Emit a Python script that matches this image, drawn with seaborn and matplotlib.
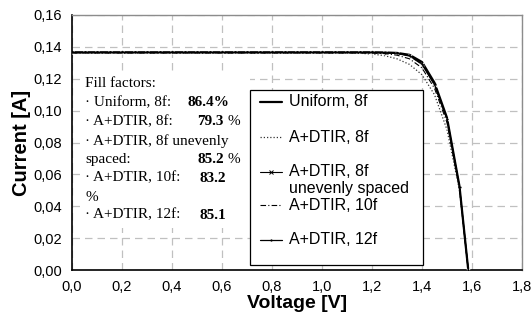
import matplotlib
matplotlib.use("Agg")
import matplotlib.pyplot as plt
from matplotlib.patches import Rectangle
from matplotlib.lines import Line2D
from matplotlib.ticker import FuncFormatter
import seaborn as sns
import pandas as pd

# Voltage sweep [V]
voltage = [0.00, 0.05, 0.10, 0.15, 0.20, 0.25, 0.30, 0.35, 0.40, 0.45,
           0.50, 0.55, 0.60, 0.65, 0.70, 0.75, 0.80, 0.85, 0.90, 0.95,
           1.00, 1.05, 1.10, 1.15, 1.20, 1.25, 1.30, 1.35, 1.40, 1.45,
           1.50, 1.55, 1.585]

# Current [A] for each cell design
uniform_8f = [0.1366, 0.1366, 0.1366, 0.1366, 0.1366, 0.1366, 0.1366, 0.1366, 0.1366, 0.1366,
              0.1366, 0.1366, 0.1366, 0.1366, 0.1366, 0.1366, 0.1366, 0.1366, 0.1366, 0.1366,
              0.1366, 0.1366, 0.1366, 0.1366, 0.1366, 0.1365, 0.1362, 0.1350, 0.1305, 0.1175,
              0.0955, 0.0525, 0.0000]
dtir_8f = [0.1362, 0.1362, 0.1362, 0.1362, 0.1362, 0.1362, 0.1362, 0.1362, 0.1362, 0.1362,
           0.1362, 0.1362, 0.1362, 0.1362, 0.1362, 0.1362, 0.1362, 0.1362, 0.1362, 0.1362,
           0.1362, 0.1362, 0.1362, 0.1360, 0.1355, 0.1345, 0.1325, 0.1290, 0.1225, 0.1100,
           0.0880, 0.0500, 0.0000]
dtir_8f_uneven = [0.1364, 0.1364, 0.1364, 0.1364, 0.1364, 0.1364, 0.1364, 0.1364, 0.1364, 0.1364,
                  0.1364, 0.1364, 0.1364, 0.1364, 0.1364, 0.1364, 0.1364, 0.1364, 0.1364, 0.1364,
                  0.1364, 0.1364, 0.1364, 0.1364, 0.1364, 0.1363, 0.1358, 0.1342, 0.1290, 0.1160,
                  0.0945, 0.0520, 0.0000]
dtir_10f = [0.1362, 0.1362, 0.1362, 0.1362, 0.1362, 0.1362, 0.1362, 0.1362, 0.1362, 0.1362,
            0.1362, 0.1362, 0.1362, 0.1362, 0.1362, 0.1362, 0.1362, 0.1362, 0.1362, 0.1362,
            0.1362, 0.1362, 0.1362, 0.1362, 0.1361, 0.1358, 0.1348, 0.1325, 0.1268, 0.1140,
            0.0925, 0.0510, 0.0000]
dtir_12f = [0.1365, 0.1365, 0.1365, 0.1365, 0.1365, 0.1365, 0.1365, 0.1365, 0.1365, 0.1365,
            0.1365, 0.1365, 0.1365, 0.1365, 0.1365, 0.1365, 0.1365, 0.1365, 0.1365, 0.1365,
            0.1365, 0.1365, 0.1365, 0.1365, 0.1365, 0.1364, 0.1360, 0.1345, 0.1295, 0.1165,
            0.0950, 0.0522, 0.0000]

series_names = ["Uniform, 8f", "A+DTIR, 8f", "A+DTIR, 8f\nunevenly spaced",
                "A+DTIR, 10f", "A+DTIR, 12f"]

# Fill factor annotations
ff_labels = ["\u00b7 Uniform, 8f:", "\u00b7 A+DTIR, 8f:", "\u00b7 A+DTIR, 8f unevenly",
             "spaced:", "\u00b7 A+DTIR, 10f:", "%", "\u00b7 A+DTIR, 12f:"]
ff_values = ["86.4%", "79.3", "", "85.2", "83.2", "", "85.1"]
ff_units = ["", "%", "", "%", "", "", ""]

x_ticks = [0.0, 0.2, 0.4, 0.6, 0.8, 1.0, 1.2, 1.4, 1.6, 1.8]
y_ticks = [0.00, 0.02, 0.04, 0.06, 0.08, 0.10, 0.12, 0.14, 0.16]

sns.set_style("white")
plt.rcParams["font.family"] = ["Liberation Sans", "DejaVu Sans"]
plt.rcParams.update({"text.color": "black", "axes.labelcolor": "black",
                     "xtick.color": "black", "ytick.color": "black"})

fig = plt.figure(figsize=(5.32, 3.29), dpi=100)
ax = fig.add_axes([72 / 532, 1 - 270 / 329, 450 / 532, 255 / 329])

df = pd.DataFrame({"V": voltage, "u": uniform_8f, "d8": dtir_8f,
                   "un": dtir_8f_uneven, "d10": dtir_10f, "d12": dtir_12f})

styles = [
    dict(y="u", color="black", lw=1.6, linestyle="-"),
    dict(y="d8", color="#333333", lw=0.9, linestyle=(0, (1, 1.6))),
    dict(y="un", color="black", lw=0.8, linestyle="-", marker="x", ms=3.2, mew=0.7),
    dict(y="d10", color="black", lw=0.8, linestyle=(0, (5, 2, 1, 2))),
    dict(y="d12", color="black", lw=0.9, linestyle="-", marker="o", ms=1.6, mew=0),
]
for st in styles:
    st = dict(st)
    col = st.pop("y")
    sns.lineplot(data=df, x="V", y=col, ax=ax, sort=False, zorder=3, **st)

ax.set_xlim(0, 1.8)
ax.set_ylim(0, 0.16)
ax.set_xticks(x_ticks)
ax.set_yticks(y_ticks)
ax.xaxis.set_major_formatter(FuncFormatter(lambda v, p: f"{v:.1f}".replace(".", ",")))
ax.yaxis.set_major_formatter(FuncFormatter(lambda v, p: f"{v:.2f}".replace(".", ",")))
ax.tick_params(axis="both", direction="out", length=4, width=1, color="black",
               labelcolor="black", labelsize=10.5, pad=3)
ax.grid(True, color="#c0c0c0", linestyle=(0, (6, 4)), linewidth=0.9)
ax.set_axisbelow(True)

for side in ("left", "bottom"):
    ax.spines[side].set_color("black")
    ax.spines[side].set_linewidth(1.2)
for side in ("top", "right"):
    ax.spines[side].set_color("#8c8c8c")
    ax.spines[side].set_linewidth(1.0)

ax.set_xlabel("Voltage [V]", fontsize=14, fontweight="bold", labelpad=1, color="black")
ax.set_ylabel("Current [A]", fontsize=14.5, fontweight="bold", labelpad=2, color="black")

# White panel holding the fill factor summary
ax.add_patch(Rectangle((0.032, 0.0262), 0.68, 0.098, facecolor="white",
                       edgecolor="none", zorder=1.5))
serif = ["Liberation Serif", "DejaVu Serif"]
fs = 11
ax.text(0.052, 0.1173, "Fill factors:", family=serif, fontsize=fs, va="center",
        color="black", zorder=2)
row_y = [0.1048, 0.0929, 0.0810, 0.0696, 0.0577, 0.0458, 0.0345]
val_x = [0.464, 0.50, 0.50, 0.50, 0.512, 0.512, 0.512]
for y, lab, val, unit, vx in zip(row_y, ff_labels, ff_values, ff_units, val_x):
    ax.text(0.052, y, lab, family=serif, fontsize=fs, va="center", color="black", zorder=2)
    if val:
        ax.text(vx, y, val, family=serif, fontsize=fs, fontweight="bold",
                va="center", color="black", zorder=2)
    if unit:
        ax.text(0.62, y, unit, family=serif, fontsize=fs, va="center", color="black", zorder=2)

# Legend box
lx0, lx1 = (250 - 72) / 450, (423 - 72) / 450
ly0, ly1 = (270 - 265) / 255, (270 - 90) / 255
ax.add_patch(Rectangle((lx0, ly0), lx1 - lx0, ly1 - ly0, transform=ax.transAxes,
                       facecolor="white", edgecolor="black", linewidth=0.9, zorder=5))
h0, h1, tx = (260 - 72) / 450, (282 - 72) / 450, (289 - 72) / 450
rows = [(270 - 102) / 255, (270 - 137) / 255, (270 - 172) / 255,
        (270 - 205) / 255, (270 - 240) / 255]
for st, y, name in zip(styles, rows, series_names):
    st = dict(st)
    st.pop("y")
    ax.add_line(Line2D([h0, h1], [y, y], transform=ax.transAxes, zorder=6,
                       color=st["color"], lw=st["lw"], linestyle=st["linestyle"]))
    if "marker" in st:
        ax.add_line(Line2D([(h0 + h1) / 2], [y], transform=ax.transAxes, zorder=6,
                           color=st["color"], linestyle="none", marker=st["marker"],
                           ms=st["ms"], mew=st["mew"]))
    first, *rest = name.split("\n")
    ax.text(tx, y, first, transform=ax.transAxes, fontsize=11.5, va="center",
            color="black", zorder=6)
    for k, line in enumerate(rest, 1):
        ax.text(tx, y - k * 16 / 255, line, transform=ax.transAxes, fontsize=11.5,
                va="center", color="black", zorder=6)

fig.savefig("out.png", dpi=100)
